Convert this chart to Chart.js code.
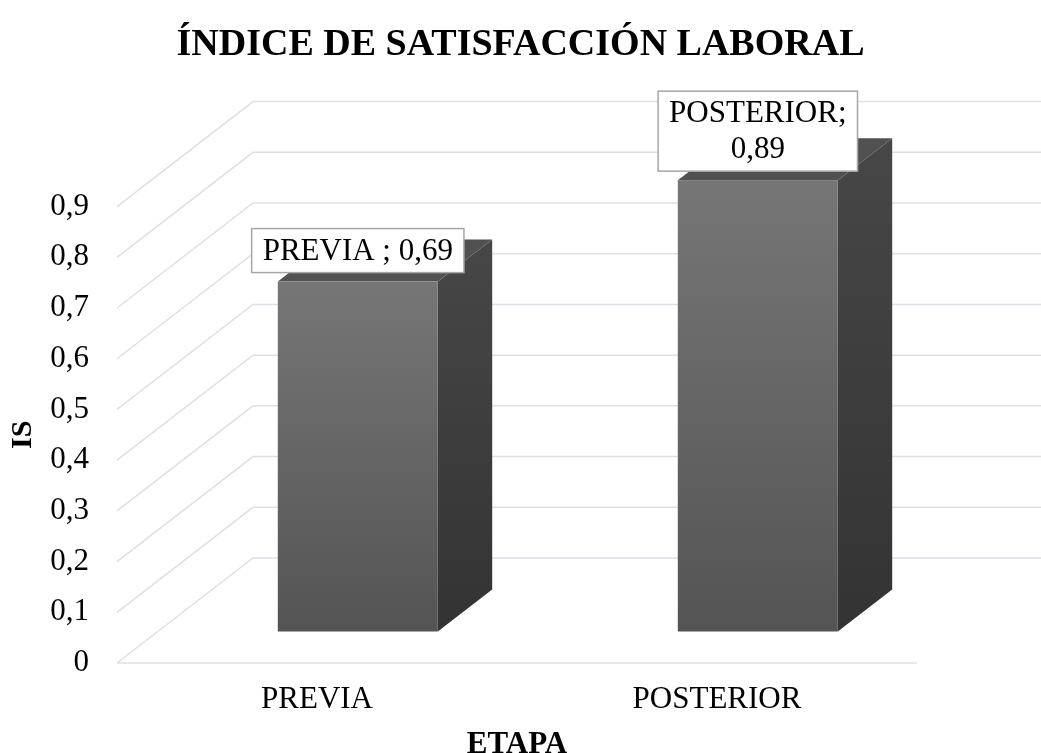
<!DOCTYPE html>
<html>
<head>
<meta charset="utf-8">
<script src="https://cdn.jsdelivr.net/npm/chart.js@4.4.1/dist/chart.umd.min.js"></script>
<style>
  body { margin: 0; background: #fff; }
  #wrap { width: 1041px; height: 753px; }
</style>
</head>
<body>
<div id="wrap"><canvas id="chart" width="1041" height="753"></canvas></div>
<script>
// data
const categories = ['PREVIA', 'POSTERIOR'];
const values = [0.69, 0.89];
const dataLabels = [['PREVIA ; 0,69'], ['POSTERIOR;', '0,89']];
const yMax = 0.9;
const yStep = 0.1;

// 3D look: depth of the floor and where the bars sit in it
const DEPTH_X = 136, DEPTH_Y = -105;
const BAR_FRONT = 0.3, BAR_BACK = 0.7;
const GRID_COLOR = '#dce0e7';
const FONT = '"Liberation Serif", "Times New Roman", serif';

const fmt = v => v === 0 ? '0' : v.toFixed(1).replace('.', ',');

const walls3d = {
    id: 'walls3d',
    beforeDatasetsDraw(chart) {
        const { ctx, chartArea, scales: { y } } = chart;
        ctx.save();
        ctx.strokeStyle = GRID_COLOR;
        ctx.lineWidth = 1.5;
        y.ticks.forEach(t => {
            const py = y.getPixelForValue(t.value);
            ctx.beginPath();
            ctx.moveTo(chartArea.left, py);
            ctx.lineTo(chartArea.left + DEPTH_X, py + DEPTH_Y);
            ctx.lineTo(chart.width, py + DEPTH_Y);
            ctx.stroke();
        });
        // front edge of the floor
        const p0 = y.getPixelForValue(0);
        ctx.beginPath();
        ctx.moveTo(chartArea.left, p0);
        ctx.lineTo(chartArea.right, p0);
        ctx.stroke();
        ctx.restore();
    },
    afterDatasetsDraw(chart) {
        const { ctx } = chart;
        const meta = chart.getDatasetMeta(0);
        const ox = DEPTH_X * BAR_FRONT, oy = DEPTH_Y * BAR_FRONT;
        const dx = DEPTH_X * (BAR_BACK - BAR_FRONT), dy = DEPTH_Y * (BAR_BACK - BAR_FRONT);
        ctx.save();
        meta.data.forEach((bar, i) => {
            const { x, y, base, width } = bar.getProps(['x', 'y', 'base', 'width'], true);
            const x0 = x - width / 2 + ox, x1 = x + width / 2 + ox;
            const yT = y + oy, yB = base + oy;

            // side
            let g = ctx.createLinearGradient(0, yT + dy, 0, yB);
            g.addColorStop(0, '#474747');
            g.addColorStop(1, '#333333');
            ctx.fillStyle = g;
            ctx.beginPath();
            ctx.moveTo(x1, yT);
            ctx.lineTo(x1 + dx, yT + dy);
            ctx.lineTo(x1 + dx, yB + dy);
            ctx.lineTo(x1, yB);
            ctx.closePath();
            ctx.fill();

            // top
            ctx.fillStyle = '#515151';
            ctx.beginPath();
            ctx.moveTo(x0, yT);
            ctx.lineTo(x0 + dx, yT + dy);
            ctx.lineTo(x1 + dx, yT + dy);
            ctx.lineTo(x1, yT);
            ctx.closePath();
            ctx.fill();

            // front
            g = ctx.createLinearGradient(0, yT, 0, yB);
            g.addColorStop(0, '#767676');
            g.addColorStop(1, '#545454');
            ctx.fillStyle = g;
            ctx.fillRect(x0, yT, x1 - x0, yB - yT);

            // data label
            const lines = dataLabels[i];
            const lh = 36, padX = 11, padY = 4;
            ctx.font = '31px ' + FONT;
            const tw = Math.max(...lines.map(s => ctx.measureText(s).width));
            const bw = tw + padX * 2, bh = lines.length * lh + padY * 2;
            const cx = (x0 + x1) / 2;
            const by = yT - 9 - bh;
            ctx.fillStyle = '#ffffff';
            ctx.fillRect(cx - bw / 2, by, bw, bh);
            ctx.strokeStyle = '#a6a6a6';
            ctx.lineWidth = 1.5;
            ctx.strokeRect(cx - bw / 2, by, bw, bh);
            ctx.fillStyle = '#000000';
            ctx.textAlign = 'center';
            ctx.textBaseline = 'middle';
            lines.forEach((s, k) => ctx.fillText(s, cx, by + padY + lh * k + lh / 2 + 1));
        });
        ctx.restore();
    }
};

const ctx = document.getElementById('chart').getContext('2d');
new Chart(ctx, {
    type: 'bar',
    data: {
        labels: categories,
        datasets: [{
            label: 'IS',
            data: values,
            backgroundColor: 'rgba(0,0,0,0)',
            borderWidth: 0,
            barPercentage: 0.4,
            categoryPercentage: 1
        }]
    },
    options: {
        responsive: false,
        animation: false,
        layout: { padding: { top: 22, right: 0, bottom: 0, left: 0 } },
        plugins: {
            legend: { display: false },
            tooltip: { enabled: false },
            title: {
                display: true,
                text: 'ÍNDICE DE SATISFACCIÓN LABORAL',
                color: '#000',
                font: { family: FONT, size: 38, weight: 'bold', lineHeight: 1.2 },
                padding: { top: 0, bottom: 139 }
            }
        },
        scales: {
            x: {
                grid: { display: false, drawTicks: false },
                border: { display: false },
                ticks: { color: '#000', font: { family: FONT, size: 31 }, padding: 18 },
                title: {
                    display: true, text: 'ETAPA', color: '#000',
                    font: { family: FONT, size: 31, weight: 'bold', lineHeight: 0.5 },
                    padding: 0
                },
                afterFit(scale) { scale.height = 90; }
            },
            y: {
                min: 0,
                max: yMax,
                grid: { display: false, drawTicks: false },
                border: { display: false },
                ticks: {
                    stepSize: yStep,
                    color: '#000',
                    font: { family: FONT, size: 31 },
                    padding: 28,
                    callback: v => fmt(v)
                },
                title: {
                    display: true, text: 'IS', color: '#000',
                    font: { family: FONT, size: 30, weight: 'bold', lineHeight: 1.2 },
                    padding: { top: 5, bottom: 0 }
                },
                afterFit(scale) { scale.width = 117; }
            },
            // empty right-hand strip so the title stays centred on the page
            yRight: {
                position: 'right',
                min: 0,
                max: yMax,
                grid: { display: false, drawTicks: false },
                border: { display: false },
                ticks: { display: false },
                afterFit(scale) { scale.width = 124; }
            }
        }
    },
    plugins: [walls3d]
});
</script>
</body>
</html>
